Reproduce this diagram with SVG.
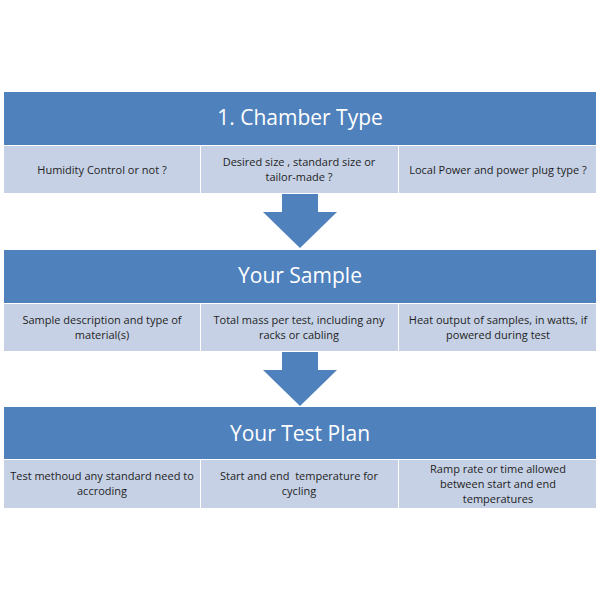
<svg xmlns="http://www.w3.org/2000/svg" width="600" height="600" viewBox="0 0 600 600">
<style>
.band{fill:#4F81BD}
.cell{fill:#C6D1E5}
.title{font-family:"Open Sans","Noto Sans",sans-serif;font-size:21px;fill:#FFFFFF;text-anchor:middle}
.txt{font-family:"Open Sans","Noto Sans",sans-serif;font-size:11px;fill:#1F1F1F;text-anchor:middle}
.arrow{fill:#4F81BD}
</style>
<rect width="600" height="600" fill="#FFFFFF"/>
<g id="chamber-type">
<rect class="band" x="4" y="92" width="592" height="53"/>
<text class="title" x="300" y="125">1. Chamber Type</text>
</g>
<g id="humidity">
<rect class="cell" x="4" y="146" width="196" height="47"/>
<text class="txt" x="102" y="174">Humidity Control or not ?</text>
</g>
<g id="size">
<rect class="cell" x="201" y="146" width="197" height="47"/>
<text class="txt" x="299" y="166">Desired size , standard size or</text>
<text class="txt" x="299" y="181">tailor-made ?</text>
</g>
<g id="power">
<rect class="cell" x="399" y="146" width="197" height="47"/>
<text class="txt" x="498" y="174">Local Power and power plug type ?</text>
</g>
<g id="your-sample">
<rect class="band" x="4" y="250" width="592" height="53"/>
<text class="title" x="300" y="283">Your Sample</text>
</g>
<g id="sample-desc">
<rect class="cell" x="4" y="304" width="196" height="47"/>
<text class="txt" x="102" y="324">Sample description and type of</text>
<text class="txt" x="102" y="339">material(s)</text>
</g>
<g id="mass">
<rect class="cell" x="201" y="304" width="197" height="47"/>
<text class="txt" x="299" y="324">Total mass per test, including any</text>
<text class="txt" x="299" y="339">racks or cabling</text>
</g>
<g id="heat">
<rect class="cell" x="399" y="304" width="197" height="47"/>
<text class="txt" x="498" y="324">Heat output of samples, in watts, if</text>
<text class="txt" x="498" y="339">powered during test</text>
</g>
<g id="test-plan">
<rect class="band" x="4" y="407" width="592" height="52"/>
<text class="title" x="300" y="441">Your Test Plan</text>
</g>
<g id="method">
<rect class="cell" x="4" y="460" width="196" height="48"/>
<text class="txt" x="102" y="480">Test methoud any standard need to</text>
<text class="txt" x="102" y="495">accroding</text>
</g>
<g id="temperature">
<rect class="cell" x="201" y="460" width="197" height="48"/>
<text class="txt" x="299" y="480">Start and end&#160; temperature for</text>
<text class="txt" x="299" y="495">cycling</text>
</g>
<g id="ramp">
<rect class="cell" x="399" y="460" width="197" height="48"/>
<text class="txt" x="498" y="473">Ramp rate or time allowed</text>
<text class="txt" x="498" y="488">between start and end</text>
<text class="txt" x="498" y="503">temperatures</text>
</g>
<g id="connectors">
<polygon class="arrow" points="282,194 318,194 318,212 337,212 300,248 263,212 282,212"/>
<polygon class="arrow" points="282,352 318,352 318,370 337,370 300,406 263,370 282,370"/>
</g>
</svg>
